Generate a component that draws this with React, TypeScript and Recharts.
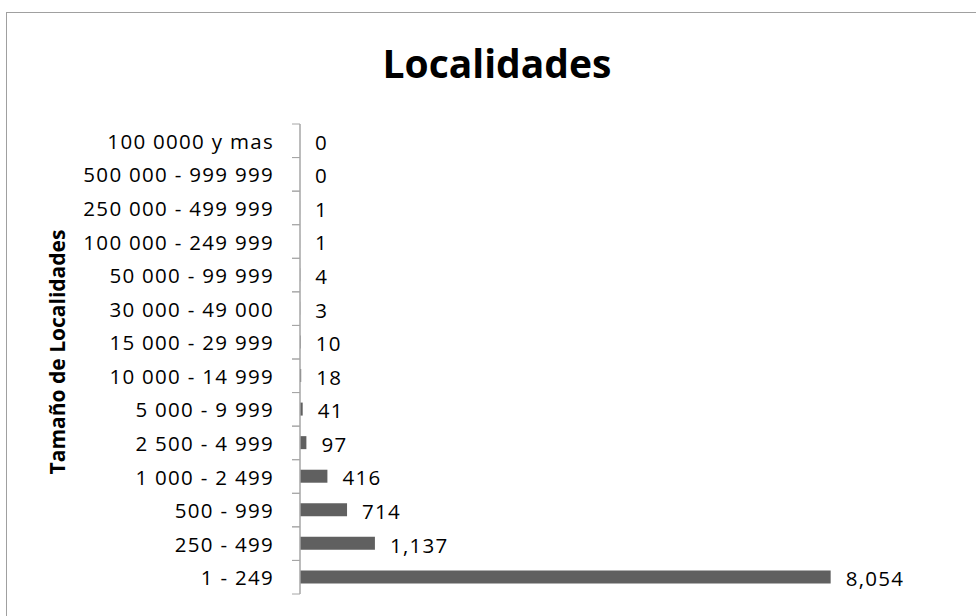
import { BarChart, Bar, XAxis, YAxis, LabelList, Label } from "recharts";

// Tamaño de localidades (de arriba hacia abajo, como en el gráfico)
const categories = [
  "100 0000 y mas",
  "500 000 - 999 999",
  "250 000 - 499 999",
  "100 000 - 249 999",
  "50 000 - 99 999",
  "30 000 - 49 000",
  "15 000 - 29 999",
  "10 000 - 14 999",
  "5 000 - 9 999",
  "2 500 - 4 999",
  "1 000 - 2 499",
  "500 - 999",
  "250 - 499",
  "1 - 249",
];
const counts = [0, 0, 1, 1, 4, 3, 10, 18, 41, 97, 416, 714, 1137, 8054];

const data = categories.map((name, i) => ({ name, value: counts[i] }));

const FONT = "'Open Sans', sans-serif";
const GRID = "#a6a6a6";

// category tick: label at band centre, tick marks on band boundaries (Excel style)
function CategoryTick(props: any) {
  const { x, y, payload } = props;
  const half = payload.offset || 0;
  const axisX = x + 26;
  return (
    <g>
      <line x1={axisX - 8} x2={axisX} y1={y - half} y2={y - half} stroke={GRID} strokeWidth={1} />
      <line x1={axisX - 8} x2={axisX} y1={y + half} y2={y + half} stroke={GRID} strokeWidth={1} />
      <text
        x={x}
        y={y}
        textAnchor="end"
        dominantBaseline="central"
        fill="#000"
        style={{ fontFamily: FONT, fontSize: 20.5, letterSpacing: 1.3 }}
      >
        {payload.value}
      </text>
    </g>
  );
}

export default function App() {
  return (
    <div style={{ position: "absolute", left: 0, top: 0, width: 976, height: 616, overflow: "hidden", background: "#fff" }}>
      <div
        style={{
          position: "absolute",
          left: 6,
          top: 12,
          width: 1000,
          height: 700,
          border: "1.5px solid #a0a0a0",
        }}
      />
      <svg style={{ position: "absolute", left: 0, top: 0 }} width={976} height={100}>
        <text
          x={497}
          y={78}
          textAnchor="middle"
          style={{ fontFamily: FONT, fontSize: 39, fontWeight: 700 }}
          fill="#000"
        >
          Localidades
        </text>
      </svg>
      <div style={{ position: "absolute", left: 0, top: 0 }}>
        <BarChart
          width={976}
          height={616}
          data={data}
          layout="vertical"
          margin={{ top: 124, right: 83, bottom: 22, left: 0 }}
          barCategoryGap="62%"
        >
          <XAxis type="number" domain={[0, 9000]} hide />
          <YAxis
            type="category"
            dataKey="name"
            width={300}
            axisLine={{ stroke: GRID, strokeWidth: 1.5 }}
            tickLine={false}
            tickSize={8}
            tickMargin={18}
            tick={<CategoryTick />}
            interval={0}
          >
            <Label
              content={(p: any) => {
                const vb = p.viewBox || { x: 0, y: 124, height: 470 };
                const cx = 57;
                const cy = vb.y + vb.height / 2 - 7;
                return (
                  <text
                    x={cx}
                    y={cy}
                    transform={`rotate(-90 ${cx} ${cy})`}
                    textAnchor="middle"
                    dominantBaseline="central"
                    fill="#000"
                    style={{ fontFamily: FONT, fontSize: 21, fontWeight: 700 }}
                  >
                    Tamaño de Localidades
                  </text>
                );
              }}
            />
          </YAxis>
          <Bar dataKey="value" fill="#606060" barSize={13} minPointSize={0.001} isAnimationActive={false}>
            <LabelList
              dataKey="value"
              position="right"
              offset={15}
              formatter={(v: any) => Number(v).toLocaleString("en-US")}
              style={{ fontFamily: FONT, fontSize: 20.5, letterSpacing: 1.3, fill: "#000" }}
              dy={2}
            />
          </Bar>
        </BarChart>
      </div>
    </div>
  );
}
